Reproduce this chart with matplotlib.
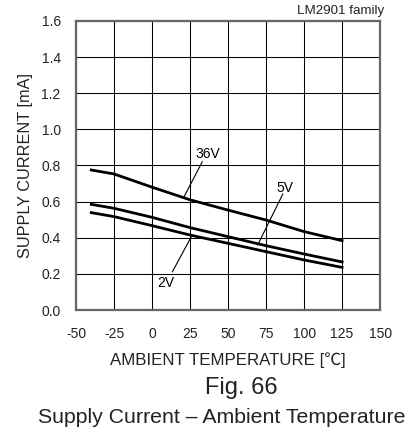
import matplotlib
matplotlib.use('Agg')
import matplotlib.pyplot as plt

plt.rcParams['font.family'] = ['Liberation Sans', 'Noto Sans CJK JP', 'DejaVu Sans']

# ambient temperature [degC]
temps = [-40, -25, 0, 25, 50, 75, 100, 125]
# supply current [mA]
i_36v = [0.775, 0.753, 0.680, 0.610, 0.553, 0.498, 0.434, 0.384]
i_5v = [0.585, 0.563, 0.513, 0.456, 0.406, 0.356, 0.310, 0.266]
i_2v = [0.539, 0.517, 0.467, 0.415, 0.369, 0.323, 0.277, 0.236]

x_ticks = [-50, -25, 0, 25, 50, 75, 100, 125, 150]
y_ticks = [0.0, 0.2, 0.4, 0.6, 0.8, 1.0, 1.2, 1.4, 1.6]

# curve labels: text, text position, leader line start/end
labels = [
    ('36V', (36.8, 0.864), (33, 0.82), (21, 0.626)),
    ('5V', (87.5, 0.677), (86, 0.642), (69.5, 0.36)),
    ('2V', (9, 0.151), (13.4, 0.212), (26.1, 0.41)),
]

fig = plt.figure(figsize=(4.2, 4.34), dpi=100)
ax = fig.add_axes([0.181, 0.2857, 0.724, 0.666])

for vals in (i_36v, i_5v, i_2v):
    ax.plot(temps, vals, color='black', linewidth=2.0)

for txt, pos, p0, p1 in labels:
    ax.plot([p0[0], p1[0]], [p0[1], p1[1]], color='black', linewidth=0.8)
    ax.text(pos[0], pos[1], txt, ha='center', va='center', fontsize=10)

ax.set_xlim(-50, 150)
ax.set_ylim(0, 1.6)
ax.set_xticks(x_ticks)
ax.set_yticks(y_ticks)
ax.set_xticklabels([str(t) for t in x_ticks])
ax.set_yticklabels(['%.1f' % t for t in y_ticks])
ax.tick_params(length=0, labelsize=10, colors='#222222')
ax.tick_params(axis='x', pad=12)
ax.tick_params(axis='y', pad=11)
ax.grid(color='black', linewidth=0.75)
ax.set_axisbelow(True)
for s in ax.spines.values():
    s.set_color('#666666')
    s.set_linewidth(1.6)

ax.set_xlabel('AMBIENT TEMPERATURE [℃]', fontsize=12.2, labelpad=8, color='#222222')
ax.set_ylabel('SUPPLY CURRENT [mA]', fontsize=11.7, labelpad=6, color='#222222')

fig.text(0.914, 0.975, 'LM2901 family', ha='right', va='center', fontsize=9.6, color='#222222')
fig.text(0.574, 0.106, 'Fig. 66', ha='center', va='center', fontsize=17, color='#222222')
fig.text(0.529, 0.039, 'Supply Current – Ambient Temperature', ha='center', va='center',
         fontsize=15.3, color='#222222')

fig.savefig('out.png', dpi=100)
